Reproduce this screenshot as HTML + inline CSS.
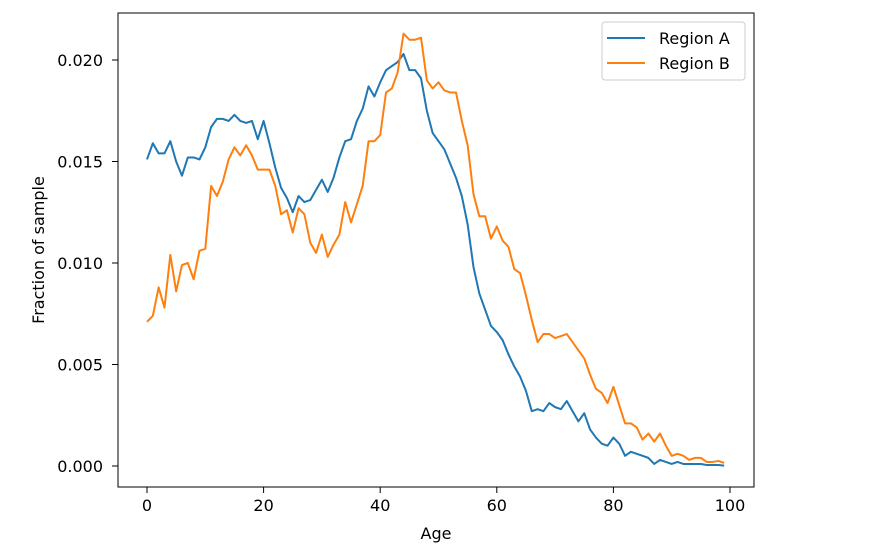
<!DOCTYPE html>
<html><head><meta charset="utf-8"><style>
body{margin:0;background:#fff;}
svg{display:block;font-family:"DejaVu Sans","Liberation Sans",sans-serif;}
</style></head><body>
<svg id="chart" width="881" height="553" viewBox="0 0 881 553" xmlns="http://www.w3.org/2000/svg">
</svg>
<script>
const seriesA = [15.1,15.9,15.4,15.4,16.0,15.0,14.3,15.2,15.2,15.1,15.7,16.7,17.1,17.1,17.0,17.3,17.0,16.9,17.0,16.1,17.0,15.9,14.7,13.7,13.2,12.5,13.3,13.0,13.1,13.6,14.1,13.5,14.2,15.2,16.0,16.1,17.0,17.6,18.7,18.2,18.9,19.5,19.7,19.9,20.3,19.5,19.5,19.1,17.5,16.4,16.0,15.6,14.9,14.2,13.3,11.9,9.8,8.5,7.7,6.9,6.6,6.2,5.5,4.9,4.4,3.7,2.7,2.8,2.7,3.1,2.9,2.8,3.2,2.7,2.2,2.6,1.8,1.4,1.1,1.0,1.4,1.1,0.5,0.7,0.6,0.5,0.4,0.1,0.3,0.2,0.1,0.2,0.1,0.1,0.1,0.1,0.05,0.05,0.05,0.02].map(v=>v/1000);
const seriesB = [7.1,7.4,8.8,7.8,10.4,8.6,9.9,10.0,9.2,10.6,10.7,13.8,13.3,14.0,15.1,15.7,15.3,15.8,15.3,14.6,14.6,14.6,13.8,12.4,12.6,11.5,12.7,12.4,11.0,10.5,11.4,10.3,10.9,11.4,13.0,12.0,12.9,13.8,16.0,16.0,16.3,18.4,18.6,19.4,21.3,21.0,21.0,21.1,19.0,18.6,18.9,18.5,18.4,18.4,17.0,15.8,13.4,12.3,12.3,11.2,11.8,11.1,10.8,9.7,9.5,8.4,7.2,6.1,6.5,6.5,6.3,6.4,6.5,6.1,5.7,5.3,4.5,3.8,3.6,3.1,3.9,3.0,2.1,2.1,1.9,1.3,1.6,1.2,1.6,1.0,0.5,0.6,0.5,0.3,0.4,0.4,0.2,0.2,0.25,0.15].map(v=>v/1000);
const xTicks = [0,20,40,60,80,100];
const yTicks = [0,0.005,0.010,0.015,0.020];
const yTickLabels = ["0.000","0.005","0.010","0.015","0.020"];
const seriesNames = ["Region A","Region B"];

const NS="http://www.w3.org/2000/svg";
const svg=document.getElementById('chart');
const L=118,R=754,T=13,B=487;
const x=v=>147+(v/100)*(730-147);
const y=v=>466-(v/0.02)*(466-60);
function mk(tag,attrs,parent){const e=document.createElementNS(NS,tag);for(const k in attrs)e.setAttribute(k,attrs[k]);(parent||svg).appendChild(e);return e;}

xTicks.forEach(t=>{
  const g=mk('g',{});
  
  
  mk('line',{x1:x(t),x2:x(t),y1:B,y2:B+6,stroke:'#000','stroke-width':1},g);
  const tx=mk('text',{x:x(t),y:B+24,'text-anchor':'middle','font-size':16,fill:'#000'},g);tx.textContent=t;
});
yTicks.forEach((t,i)=>{
  const g=mk('g',{});
  
  
  mk('line',{x1:L-6,x2:L,y1:y(t),y2:y(t),stroke:'#000','stroke-width':1},g);
  const tx=mk('text',{x:L-15,y:y(t)+6,'text-anchor':'end','font-size':16,fill:'#000'},g);tx.textContent=yTickLabels[i];
});
const colors=['#1f77b4','#ff7f0e'];
[seriesA,seriesB].forEach((s,i)=>{
  const p=mk('polyline',{points:s.map((v,k)=>x(k)+','+y(v)).join(' '),fill:'none',stroke:colors[i],'stroke-width':2,'stroke-linejoin':'round'});
  
  
});
const frame=mk('rect',{x:L,y:T,width:R-L,height:B-T,fill:'none',stroke:'#000','stroke-width':1});


const xt=mk('text',{x:436,y:539,'text-anchor':'middle','font-size':16,fill:'#000'});xt.textContent='Age';


const yt=mk('text',{x:0,y:0,'text-anchor':'middle','font-size':16,fill:'#000',transform:'translate(44,250) rotate(-90)'});yt.textContent='Fraction of sample';


const lg=mk('g',{});


mk('rect',{x:602,y:22,width:143,height:58,rx:3,fill:'#fff',stroke:'#ccc','stroke-width':1},lg);
seriesNames.forEach((n,i)=>{
  const e=mk('g',{},lg);
  
  
  const yy=38+i*25;
  mk('line',{x1:607,x2:645,y1:yy,y2:yy,stroke:colors[i],'stroke-width':2},e);
  const t=mk('text',{x:659,y:yy+6,'font-size':16,fill:'#000'},e);t.textContent=n;
});
</script>
</body></html>
